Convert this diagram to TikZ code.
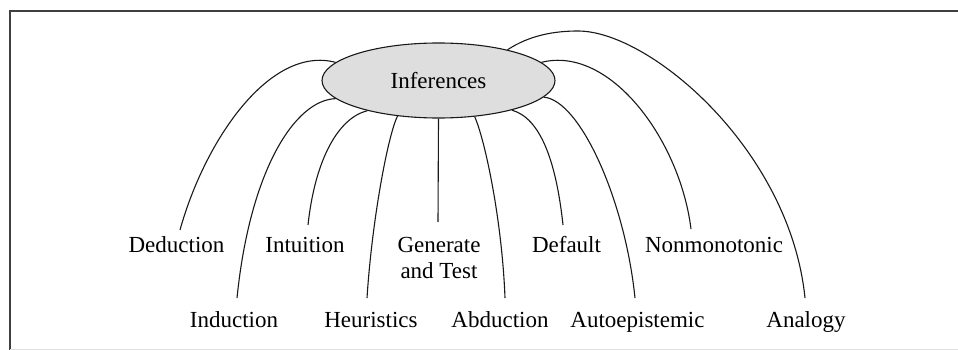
\documentclass[tikz,border=0pt]{standalone}
\usepackage{fontspec}
\setmainfont{Liberation Serif}
\usetikzlibrary{shapes.geometric}
\begin{document}
\begin{tikzpicture}[x=1pt,y=-1pt,
  lbl/.style={anchor=base,inner sep=0pt,font=\fontsize{23}{26}\selectfont},
  link/.style={draw=black!90,line width=1.1pt},
  hub/.style={ellipse,draw=black!90,line width=1.1pt,fill=black!13,minimum width=233pt,minimum height=75pt,inner sep=0pt,font=\fontsize{23}{26}\selectfont},
  frame/.style={draw=black!75,line width=2pt}]
\useasboundingbox (0,0) rectangle (958,350);
% frame
\draw[frame] (10,350) -- (10,11) -- (958,11);
\draw[black!12,line width=1pt] (10,349) -- (958,349);
% hub
\node[hub] (inf) at (438.5,80.5) {Inferences};
% labels
\node[lbl] (ded) at (176.5,252) {Deduction};
\node[lbl] (intu) at (305,252) {Intuition};
\node[lbl,align=center] (gen) at (439,278) {Generate\\and Test};
\node[lbl] (def) at (566.5,252) {Default};
\node[lbl] (non) at (714,252) {Nonmonotonic};
\node[lbl] (ind) at (234,327) {Induction};
\node[lbl] (heu) at (371,327) {Heuristics};
\node[lbl] (abd) at (500,327) {Abduction};
\node[lbl] (aut) at (637.5,327) {Autoepistemic};
\node[lbl] (ana) at (806,327) {Analogy};
% end points
\coordinate (eded) at (180,230);
\coordinate (eind) at (237,298);
\coordinate (eint) at (308,225);
\coordinate (eheu) at (367,298);
\coordinate (egen) at (438,222);
\coordinate (eabd) at (505,298);
\coordinate (edef) at (563,225);
\coordinate (eaut) at (635,298);
\coordinate (enon) at (691,229);
\coordinate (eana) at (805,298);
% connectors
\draw[link] (inf.170) .. controls (270,45) and (205,140) .. (eded);
\draw[link] (inf.190) .. controls (295,100) and (250,170) .. (eind);
\draw[link] (inf.203) .. controls (338,118) and (315,160) .. (eint);
\draw[link] (inf.221) .. controls (388,135) and (372,220) .. (eheu);
\draw[link] (inf.270) -- (egen);
\draw[link] (inf.315) .. controls (485,140) and (502,220) .. (eabd);
\draw[link] (inf.338) .. controls (540,118) and (556,160) .. (edef);
\draw[link] (inf.351) .. controls (580,100) and (625,200) .. (eaut);
\draw[link] (inf.10) .. controls (610,45) and (680,140) .. (enon);
\draw[link] (inf.24) .. controls (530,35) and (555,31) .. (578,31)
   .. controls (650,31) and (790,150) .. (eana);
\end{tikzpicture}
\end{document}
